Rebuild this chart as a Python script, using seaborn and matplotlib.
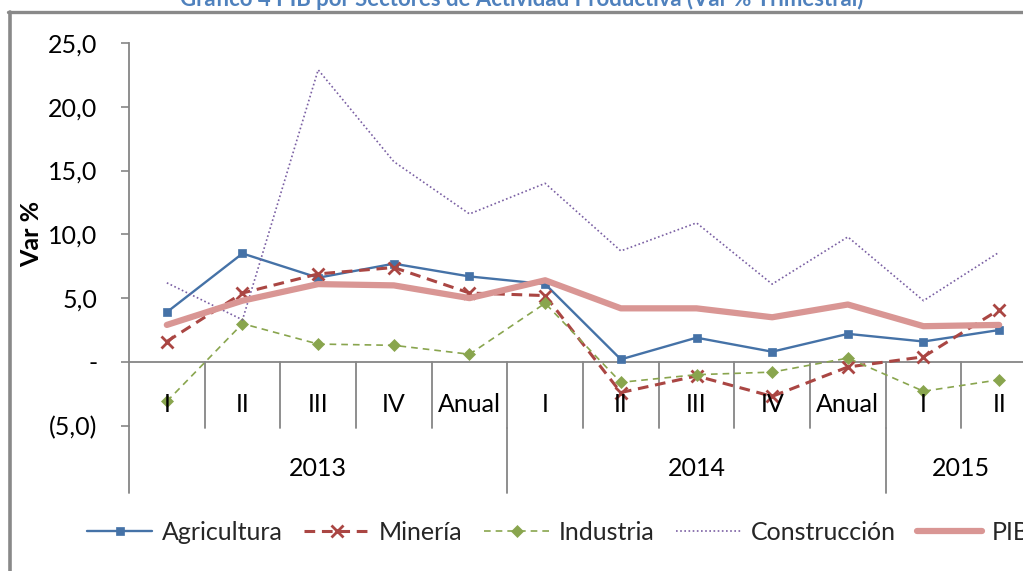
import numpy as np
import pandas as pd
import matplotlib
matplotlib.use("Agg")
import matplotlib.pyplot as plt
from matplotlib.lines import Line2D
import seaborn as sns

# ---- data ----
categories = ['I', 'II', 'III', 'IV', 'Anual', 'I', 'II', 'III', 'IV', 'Anual', 'I', 'II']
years = ['2013', '2014', '2015']
year_sizes = [5, 5, 2]
agricultura = [3.9, 8.5, 6.6, 7.7, 6.7, 6.1, 0.2, 1.9, 0.8, 2.2, 1.6, 2.5]
mineria = [1.6, 5.4, 6.9, 7.4, 5.4, 5.2, -2.4, -1.1, -2.7, -0.4, 0.4, 4.1]
industria = [-3.1, 3.0, 1.4, 1.3, 0.6, 4.6, -1.6, -1.0, -0.8, 0.3, -2.3, -1.4]
construccion = [6.2, 3.3, 22.9, 15.7, 11.6, 14.0, 8.7, 10.9, 6.1, 9.8, 4.8, 8.6]
pib = [2.9, 4.8, 6.1, 6.0, 5.0, 6.4, 4.2, 4.2, 3.5, 4.5, 2.8, 2.9]
yticks = [-5, 0, 5, 10, 15, 20, 25]
ytick_labels = ['(5,0)', '-', '5,0', '10,0', '15,0', '20,0', '25,0']
title = 'Gráfico 4 PIB por Sectores de Actividad Productiva (Var % Trimestral)'

sns.set_theme(style='white')
plt.rcParams['font.family'] = ['Lato', 'DejaVu Sans']

W, H = 1023, 571
fig = plt.figure(figsize=(W / 100, H / 100), dpi=100)
fs = 18
gray = '#868686'

def fx(px):
    return px / W

def fy(py):
    return 1 - py / H

ax = fig.add_axes([fx(129), fy(425.7), fx(1037) - fx(129), fy(43) - fy(425.7)])

x = np.arange(len(categories))
df = pd.DataFrame({'x': x, 'Agricultura': agricultura, 'Minería': mineria,
                   'Industria': industria, 'Construcción': construccion, 'PIB': pib})

sns.lineplot(data=df, x='x', y='Agricultura', ax=ax, color='#4572A7', linewidth=1.7,
             marker='s', markersize=5.5, markeredgecolor='#4572A7', markeredgewidth=0.5,
             label='Agricultura', sort=False)
sns.lineplot(data=df, x='x', y='Minería', ax=ax, color='#AA4643', linewidth=2.2,
             linestyle=(0, (3.5, 2.2)), marker='x', markersize=9, markeredgecolor='#AA4643',
             markeredgewidth=2, label='Minería', sort=False)
sns.lineplot(data=df, x='x', y='Industria', ax=ax, color='#89A54E', linewidth=1.2,
             linestyle=(0, (4, 3)), marker='D', markersize=6.5, markeredgecolor='#89A54E',
             markeredgewidth=0.5, label='Industria', sort=False)
sns.lineplot(data=df, x='x', y='Construcción', ax=ax, color='#7A5FA3', linewidth=1.2,
             linestyle=(0, (1, 1.5)), label='Construcción', sort=False)
sns.lineplot(data=df, x='x', y='PIB', ax=ax, color='#D99694', linewidth=4.5,
             label='PIB', sort=False, solid_capstyle='round')

ax.set_xlim(-0.5, len(categories) - 0.5)
ax.set_ylim(-5, 25)
ax.set_xlabel('')
ax.set_ylabel('')
ax.set_xticks([])
ax.set_yticks(yticks)
ax.set_yticklabels(ytick_labels, fontsize=fs, color='black')
ax.tick_params(axis='y', direction='out', length=5.8, width=1.2, color=gray, pad=17, left=True)
for s in ['top', 'right', 'bottom']:
    ax.spines[s].set_visible(False)
ax.spines['left'].set_color(gray)
ax.spines['left'].set_linewidth(1.3)
ax.grid(False)

# zero axis line
ax.axhline(0, color=gray, lw=1.3, zorder=1)
# left axis extension down through the category area
ax.plot([-0.5, -0.5], [-5, -10.3], color=gray, lw=1.3, clip_on=False)
# category separators
for b in np.arange(0.5, len(categories) - 0.5, 1.0):
    ax.plot([b, b], [0, -5.15], color=gray, lw=1.3, clip_on=False, zorder=1)
# group separators
edges = np.cumsum(year_sizes)
for e in edges[:-1]:
    ax.plot([e - 0.5, e - 0.5], [-5.15, -10.3], color=gray, lw=1.3, clip_on=False, zorder=1)
# category labels
for xi, c in zip(x, categories):
    ax.text(xi, -3.32, c, ha='center', va='center', fontsize=fs, color='black', clip_on=False)
# year labels
start = 0
for yr, n in zip(years, year_sizes):
    ax.text(start + n / 2 - 0.5, -8.35, yr, ha='center', va='center', fontsize=fs,
            color='black', clip_on=False)
    start += n

ax.get_legend().remove()
handles, labels = ax.get_legend_handles_labels()
fig.legend(handles, labels, loc='center left', bbox_to_anchor=(fx(87), fy(532)),
           ncol=5, frameon=False, fontsize=fs, handlelength=2.6, handletextpad=0.4,
           columnspacing=0.85, borderpad=0, borderaxespad=0)

# y label
fig.text(fx(32), fy(234), 'Var %', rotation=90, ha='center', va='center',
         fontsize=fs, fontweight='bold', color='black')

# title (partly cut off at the top, as in the reference)
fig.text(fx(522), fy(6), title, ha='center', va='baseline', fontsize=15.9,
         fontweight='bold', color='#4F81BD')

# outer frame lines
fig.add_artist(Line2D([fx(8), 1.0], [fy(11.5), fy(11.5)], color='#898989', lw=2.4))
fig.add_artist(Line2D([fx(10), fx(10)], [fy(11.5), 0.0], color='#898989', lw=2.6))

fig.savefig('out.png', dpi=100)
